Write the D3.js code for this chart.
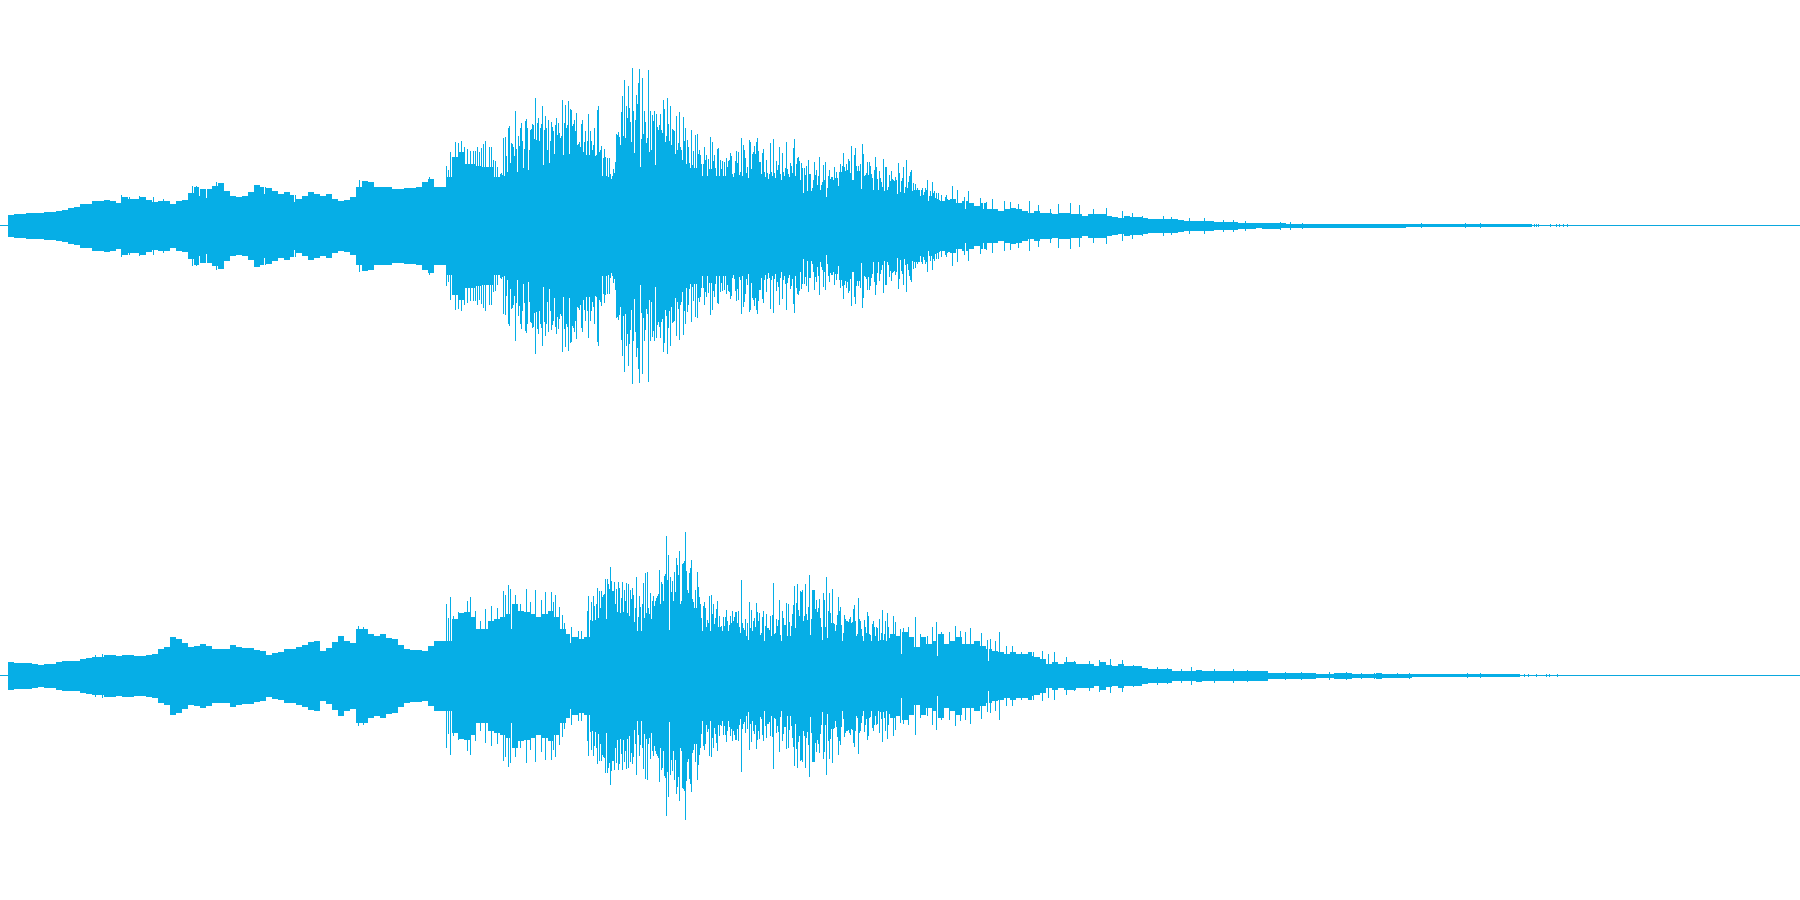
<!DOCTYPE html>
<html><head><meta charset="utf-8">
<script src="https://cdnjs.cloudflare.com/ajax/libs/d3/7.8.5/d3.min.js"></script>
<style>html,body{margin:0;padding:0;background:#fff;overflow:hidden}svg{display:block}</style>
</head><body>
<svg id="chart" width="1800" height="900"></svg>
<script>
// Waveform. Levels are on a +/-225 full-scale, time in display columns.
const fullScale = 225, timeStart = 8, timeEnd = 1800, bodyStep = 6;

// Solid body of each channel, one level per bodyStep columns
const ch1Body = [11,12,12,13,13,13,14,14,15,16,18,19,22,22,25,25,26,25,23,29,27,27,29,26,24,25,25,22,25,26,33,39,37,37,40,43,35,30,29,30,34,41,39,38,35,32,34,31,27,30,34,32,30,32,27,25,26,29,39,45,44,39,39,39,37,37,38,38,39,44,47,39,39,49,
69,74,62,62,60,59,59,49,45,75,70,79,79,95,87,95,85,89,89,100,95,80,79,72,75,67,50,92,92,99,92,87,84,97,95,85,82,75,75,69,62,70,67,59,57,55,55,49,50,59,74,64,45,40,47,57,50,62,49,50,50,42,42,49,42,59,47,60,60,54,50,
45,40,45,35,45,38,38,33,30,30,23,20,27,23,25,23,20,23,17,17,15,17,18,17,15,13,15,13,13,12,13,13,12,12,10,12,12,12,10,9,8,10,9,9,8,7,7,7,7,7,6,5,5,5,5,5,4,4,4,4,3,3,3,2.5,3,3,3,2.5,2,2,2,2,2,2,
2,2,2,2,2,2,2,2,2,2,2,2,2,2,1.5,1.5,1.5,1.5,1.5,1.5,1.5,1.5,1.5,1.5,1.5,1.5,1.5,1.5,1.5,1.5,1.5,1.5,1.5,1.5,1.5];
const ch2Body = [14,13,13,13,12,11,12,12,14,15,15,15,17,18,19,19,21,21,20,21,21,20,20,21,22,27,29,39,37,33,29,30,32,30,27,27,27,31,29,28,28,26,25,21,23,24,27,27,29,31,34,35,25,28,34,40,35,33,47,47,42,40,42,38,37,31,27,26,26,25,30,35,35,35,
57,63,64,59,47,47,55,57,59,62,72,65,64,62,59,62,65,59,47,42,39,37,39,65,64,80,92,85,79,72,79,65,69,72,77,92,97,95,82,99,95,77,70,55,59,49,50,64,49,40,49,57,45,42,50,50,55,74,69,59,59,67,69,55,55,44,55,59,49,44,49,45,
45,42,40,44,39,29,39,32,35,42,32,35,39,32,32,35,30,27,25,24,22,24,22,22,24,19,17,12,14,12,14,14,12,12,12,10,14,11,10,12,10,10,10,8,7,7,7,7,5,5,5,5,6,5,5,5,5,5,5,5,5,5,5,5,3,3,3,3,3,3,3,3,2,2,2,3,3,3,2,2,2,2,3,2,2,2,2,2,
1.5,1.5,1.5,1.5,1.5,1.5,1.5,1.5,1.5,1.5,1.5,1.5,1.5,1.5,1.5,1.5,1.5,1.5];

// Narrow peaks above the body
const ch1PeakTime = [121,129,139,153,163,192,196,216,359,429,446,448,450,455,458,461,464,467,470,473,475,477,479,481,483,485,489,491,493,495,497,883,885,891,892,898,902,906,911,927,932,938,941,952,957,964,968,980,986,992,1004,1010,1018,1029,1038,1050,1058,1070,1079,1093,1106,1122,1132,1142,1163,1171,1189,1204,1223,1233,1245,1263,1280,1290,1302,1421,1465,1480,1528,1531,1534,1536,1538,1550,1556,1559,1563,1567];
const ch1PeakLevel = [31,29,30,29,27,40,40,44,46,49,60,56,74,84,83,85,79,77,75,75,75,79,74,78,82,85,79,79,66,65,59,67,59,61,61,63,56,66,56,46,44,33,31,40,36,29,35,28,24,27,25,24,22,25,21,17,22,23,21,17,18,15,13,10,10,9,8,8,6,6,5,3,4,4,3,2.5,2.5,2.5,1.5,1.5,1.5,1.5,1.5,1.5,1.5,1.5,1.5,1.5];
const ch2PeakTime = [95,102,358,363,446,448,450,453,458,467,470,475,480,485,491,497,503,505,508,510,515,520,526,530,535,541,545,551,553,555,559,562,564,571,578,581,587,588,893,895,900,903,908,915,920,927,932,936,941,949,955,960,965,970,981,987,990,995,999,1006,1012,1021,1032,1042,1048,1054,1066,1074,1089,1099,1110,1122,1133,1141,1157,1167,1181,1191,1214,1233,1247,1262,1285,1301,1329,1346,1361,1374,1397,1409,1467,1480,1518,1524,1528,1536,1546,1549,1557];
const ch2PeakLevel = [21,22,50,49,72,58,79,60,64,75,79,65,55,67,70,68,85,81,91,87,81,72,87,74,86,76,84,84,74,81,69,61,53,49,45,45,65,80,60,54,47,48,49,59,42,40,49,54,44,44,50,45,44,48,43,36,37,35,44,30,30,24,20,25,22,24,19,15,15,16,17,16,11,10,9,8,7,9,7,7,6,5,4,4,4,4,3,3,2.5,3,2.5,2.5,1.5,1.5,1.5,1.5,1.5,1.5,1.5];

// Narrow gaps cut below the body
const ch1GapTime = [199,206,264,294,897,928,940,965,983];
const ch1GapLevel = [30,28,32,24,32,23,16,17,17];
const ch2GapTime = [511,570,901,937,988];
const ch2GapLevel = [47,33,22,20,15];

// Column-by-column readings in the densest stretches
const ch1DetailStart = [500, 650, 800];
const ch1DetailA = [52,53,51,88,50,89,70,54,98,100,63,83,82,79,70,115,77,54,90,80,98,103,85,58,77,105,107,98,56,76,96,97,102,101,87,128,86,103,108,85,98,102,120,61,96,110,98,76,106,63,85,104,99,95,72,101,108,91,103,93,88,90,126,71,103,121,98,101,125,72,117,116,100,102,106,95,113,81,82,84,79,102,106,74,84,95,71,85,112,71,95,85,76,81,98,70,71,116,120,74,76,80,50,68,77,69,50,68,49,68,52,47,50,57,53,64,92,91,94,89,81,114,130,90,146,88,120,108,140,118,104,84,158,115,73,106,131,122,143,157,59,87,148,92,115,104,83,88,156,74];
const ch1DetailB = [115,76,111,105,115,61,112,99,96,101,112,96,93,126,117,84,90,128,102,85,120,81,97,96,95,72,110,76,83,114,79,76,66,109,85,98,62,86,79,63,58,96,61,75,58,91,58,92,72,76,71,62,50,62,79,66,71,50,67,57,89,57,84,65,71,58,50,77,78,50,66,57,65,50,64,50,68,59,65,66,73,70,52,49,53,65,75,63,74,51,54,88,50,81,76,68,53,59,48,86,84,57,72,74,80,72,84,88,75,64,64,52,73,77,54,49,66,53,47,52,83,54,50,87,53,48,65,56,61,79,52,46,73,54,50,58,84,57,52,49,63,60,53,78,87,50,62,68,69,65];
const ch1DetailC = [46,63,58,33,58,51,60,35,66,52,52,35,38,46,64,51,56,41,50,69,36,41,44,61,46,64,29,38,50,56,47,49,49,46,59,48,54,48,40,54,62,54,60,73,59,55,62,56,67,65,53,80,46,46,71,78,60,55,60,55,62,37,82,72,50,51,53,64,51,64,60,52,48,36,56,69,59,47,36,55,48,44,39,67,35,59,59,36,39,51,45,55,47,46,45,49,46,32,63,53,34,45,48,59,33,39,66,38,44,50,54,56,35,43,36,42,36,38,36,36,30,36,38,31,34,38,36,46,25,30,35,30,44,33,35,28,33,27,33,26,25,31,25,25,25,29,31,27,26,26];
const ch2DetailStart = [590, 740];
const ch2DetailA = [56,74,55,80,70,56,72,88,58,85,68,85,79,81,82,97,57,97,92,87,109,95,85,85,94,72,87,64,94,88,63,78,94,64,86,75,93,63,92,60,86,77,88,81,54,68,99,45,59,80,69,45,72,93,58,103,63,104,68,62,83,57,75,80,70,75,78,80,82,106,72,94,92,75,100,102,140,96,121,46,99,84,95,75,104,84,118,111,101,125,72,75,112,113,115,144,105,86,83,103,108,116,77,74,68,86,68,104,89,79,72,58,45,70,74,68,49,56,53,80,45,81,62,72,52,58,67,75,49,60,49,50,45,59,50,59,66,55,45,51,60,53,65,55,59,64,64,53,65,49];
const ch2DetailB = [43,96,53,48,46,57,40,53,36,74,48,66,45,55,58,49,73,64,55,63,41,43,59,65,35,50,62,48,48,46,60,40,61,93,42,43,57,50,56,76,41,35,65,58,51,51,73,40,72,54,40,50,62,71,90,48,73,92,66,60,85,84,86,55,60,92,62,56,69,101,41,57,86,86,86,67,76,64,68,77,58,49,36,83,76,49,99,38,65,83,63,53,87,53,52,45,51,61,79,65,69,51,35,43,61,57,55,55,54,57,59,53,54,67,71,55,40,42,78,57,55,47,40,35,56,49,43,64,60,42,41,35,52,55,49,40,49,48,35,57,36,43,66,36,42,55,35,63,49,38];

const lineColor = "#0ba8de", fillColor = "#06aee6";

const x = d3.scaleLinear().domain([timeStart, timeEnd]).range([timeStart, timeEnd]);
const svg = d3.select("#chart");

function columns(body, peakT, peakL, gapT, gapL, starts, details) {
  const m = new Map();
  body.forEach((v, i) => { for (let c = 0; c < bodyStep; c++) m.set(timeStart + i * bodyStep + c, v); });
  peakT.forEach((t, i) => m.set(t, peakL[i]));
  gapT.forEach((t, i) => m.set(t, gapL[i]));
  details.forEach((d, j) => d.forEach((v, i) => m.set(starts[j] + i, v)));
  return Array.from(m, ([t, v]) => ({t, v}));
}

function channel(top, body, peakT, peakL, gapT, gapL, starts, details) {
  const y = d3.scaleLinear().domain([fullScale, -fullScale]).range([top + 0.5, top + 450.5]);
  const g = svg.append("g");
  g.append("rect").attr("x", 0).attr("width", 1800)
    .attr("y", y(0.5)).attr("height", y(-0.5) - y(0.5)).attr("fill", lineColor);
  g.selectAll("rect.col").data(columns(body, peakT, peakL, gapT, gapL, starts, details)).join("rect")
    .attr("class", "col")
    .attr("x", d => x(d.t)).attr("width", 1)
    .attr("y", d => y(d.v)).attr("height", d => y(-d.v) - y(d.v))
    .attr("fill", fillColor).attr("shape-rendering", "crispEdges");
}
channel(0, ch1Body, ch1PeakTime, ch1PeakLevel, ch1GapTime, ch1GapLevel, ch1DetailStart, [ch1DetailA, ch1DetailB, ch1DetailC]);
channel(450, ch2Body, ch2PeakTime, ch2PeakLevel, ch2GapTime, ch2GapLevel, ch2DetailStart, [ch2DetailA, ch2DetailB]);
</script>
</body></html>
